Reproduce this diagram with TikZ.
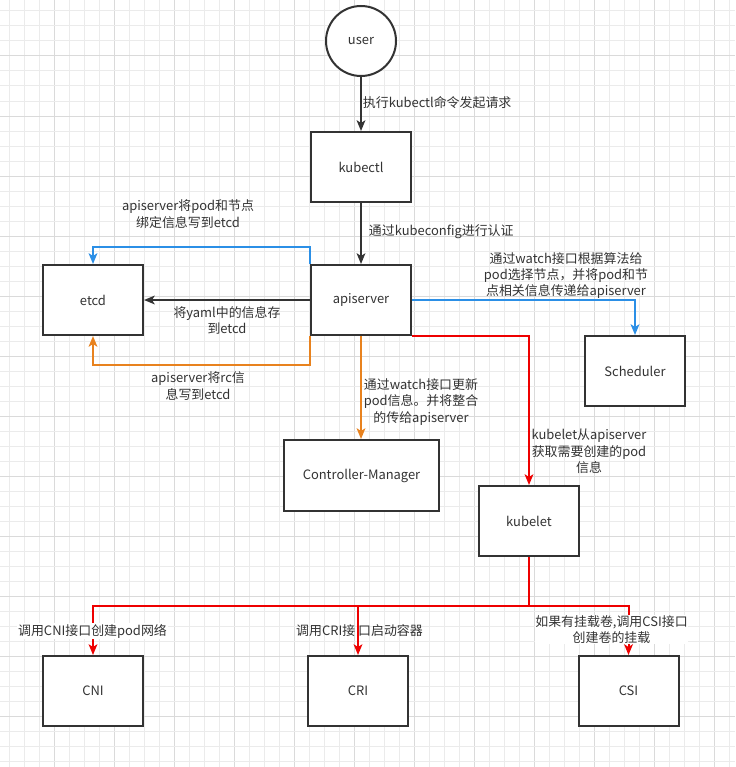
\documentclass[tikz,border=0pt]{standalone}
\usepackage{fontspec}
\setmainfont{Noto Sans CJK SC}
\usetikzlibrary{arrows.meta}
\definecolor{ink}{HTML}{333333}
\definecolor{gridminor}{HTML}{EBEBEB}
\definecolor{gridmajor}{HTML}{DADADA}
\definecolor{lblue}{HTML}{2B8FE6}
\definecolor{lorange}{HTML}{E8821E}
\definecolor{lred}{HTML}{EE0000}
\tikzset{
  box/.style={draw=ink, line width=1.5pt, fill=white, minimum width=75pt, minimum height=52.5pt, inner sep=0pt, text=ink},
  conn/.style={line width=1.5pt, -{Stealth[length=8pt,width=6.5pt,inset=2pt]}},
  plain/.style={line width=1.5pt},
  lbl/.style={text=ink, align=center, inner sep=0.5pt},
  bg/.style={fill=white},
}
\begin{document}
\begin{tikzpicture}[x=0.75pt,y=-0.75pt,font=\fontsize{9.7}{12.3}\selectfont]
\useasboundingbox (0,0) rectangle (735,767);
\fill[white] (0,0) rectangle (735,767);
% grid
\foreach \i in {0,...,48} {
  \pgfmathtruncatemacro\m{mod(\i,4)}
  \ifnum\m=3 \def\gc{gridmajor}\else\def\gc{gridminor}\fi
  \draw[\gc, line width=0.75pt] ({9+15*\i},0) -- ({9+15*\i},767);
}
\foreach \i in {0,...,50} {
  \pgfmathtruncatemacro\m{mod(\i,4)}
  \ifnum\m=3 \def\gc{gridmajor}\else\def\gc{gridminor}\fi
  \draw[\gc, line width=0.75pt] (0,{11+15*\i}) -- (735,{11+15*\i});
}
% nodes
\node[circle, draw=ink, line width=1.5pt, fill=white, minimum size=52.5pt, inner sep=0pt, text=ink] (user) at (361,41) {user};
\node[box] (kubectl) at (361,167) {kubectl};
\node[box] (apiserver) at (361,300) {apiserver};
\node[box] (etcd) at (93,300) {etcd};
\node[box] (sched) at (635,371) {Scheduler};
\node[box, minimum width=116.25pt, minimum height=53.25pt] (cm) at (361.5,475.5) {Controller-Manager};
\node[box] (kubelet) at (529,521) {kubelet};
\node[box] (cni) at (93,691) {CNI};
\node[box] (cri) at (358,691) {CRI};
\node[box] (csi) at (628.5,691) {CSI};
% connectors
\draw[conn, ink] (user) -- (kubectl);
\draw[conn, ink] (kubectl) -- (apiserver);
\draw[conn, ink] (apiserver) -- (etcd);
\draw[conn, lblue] (apiserver.north west) -- ++(0,-17) -| (etcd.north);
\draw[conn, lorange] (apiserver.south west) -- ++(0,29) -| (etcd.south);
\draw[conn, lblue] (apiserver.east) -| (sched.north);
\draw[conn, lorange] (apiserver.south) -- (apiserver.south |- cm.north);
\draw[conn, lred] (apiserver.south east) -| (kubelet.north);
\draw[plain, lred] (kubelet.south) -- ++(0,49) coordinate (bus);
\draw[conn, lred] (bus) -| (cni.north);
\draw[conn, lred] (bus) -| (csi.north);
\draw[conn, lred] (cri.north |- bus) -- (cri.north);
% labels
\node[lbl, anchor=west] (l1) at (362,103) {执行kubectl命令发起请求};
\node[lbl, anchor=west] (l2) at (368,232) {通过kubeconfig进行认证};
\node[lbl] (l3) at (227,320.5) {将yaml中的信息存\\到etcd};
\node[lbl] (l4) at (188,214) {apiserver将pod和节点\\绑定信息写到etcd};
\node[lbl] (l5) at (198,386) {apiserver将rc信\\息写到etcd};
\node[lbl] (l6) at (566,275.5) {通过watch接口根据算法给\\pod选择节点，并将pod和节\\点相关信息传递给apiserver};
\node[lbl] (l7) at (421,402) {通过watch接口更新\\pod信息。并将整合\\的传给apiserver};
\node[lbl] (l8) at (589,451.5) {kubelet从apiserver\\获取需要创建的pod\\信息};
\node[lbl, bg] (l9) at (92.5,631) {调用CNI接口创建pod网络};
\node[lbl] (l10) at (359.5,631) {调用CRI接\ 口启动容器};
\node[lbl, bg] (l11) at (611.5,629.5) {如果有挂载卷,调用CSI接口\\创建卷的挂载};
\end{tikzpicture}
\end{document}
